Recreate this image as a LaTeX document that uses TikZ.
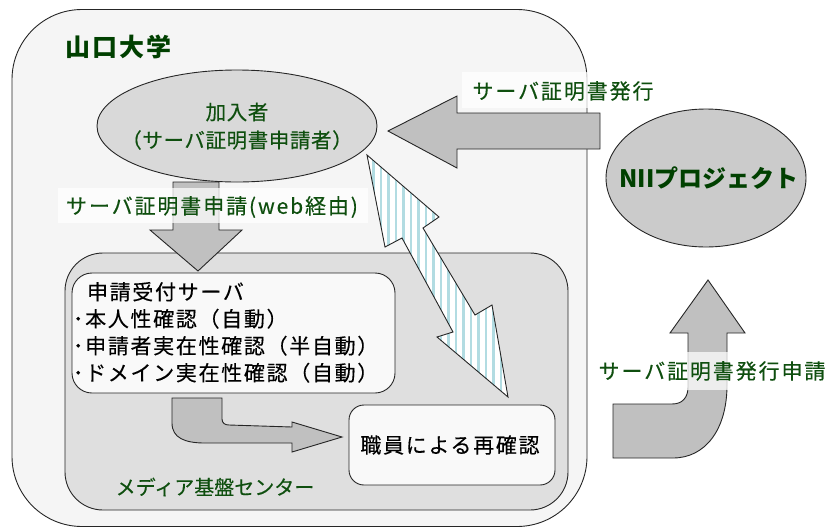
\documentclass[tikz,border=0pt]{standalone}
\usepackage{fontspec}
\setmainfont{Noto Sans CJK JP}
\usetikzlibrary{shapes.geometric}
\definecolor{outerfill}{HTML}{F5F5F5}
\definecolor{innerfill}{HTML}{DFDFDF}
\definecolor{boxfill}{HTML}{F9F9F9}
\definecolor{ellfill}{HTML}{D9D9D9}
\definecolor{niifill}{HTML}{CBCBCB}
\definecolor{arrowgray}{HTML}{C0C0C0}
\definecolor{lblgreen}{HTML}{0F4F0F}
\definecolor{titlegreen}{HTML}{004000}
\definecolor{stripe}{HTML}{B2DCE2}
\begin{document}
\begin{tikzpicture}[x=1pt,y=-1pt,
  every node/.style={inner sep=0pt, outer sep=0pt},
  frame/.style={draw=black!85, line width=0.9pt},
  blockarrow/.style={draw=black!85, fill=arrowgray, line width=0.9pt, line join=miter},
  jtext/.style={font=\fontsize{21}{27}\selectfont\addfontfeatures{LetterSpace=8,FakeBold=0.3}},
  lbl/.style={font=\fontsize{21}{25}\selectfont\addfontfeatures{LetterSpace=9,FakeBold=0.3}, text=lblgreen},
  lblbg/.style={fill=white, fill opacity=0.72, draw=none},
]
\useasboundingbox (0,0) rectangle (827,528);

% containers
\node[frame, fill=outerfill, rounded corners=70pt, minimum width=575pt, minimum height=517pt, anchor=north west] (yu) at (12,9.5) {};
\node[frame, fill=innerfill, rounded corners=38pt, minimum width=503pt, minimum height=257pt, anchor=north west] (mc) at (65,253) {};
\node[frame, fill=boxfill, rounded corners=20pt, minimum width=323pt, minimum height=120pt, anchor=north west] (srv) at (72,273) {};
\node[frame, fill=boxfill, rounded corners=15pt, minimum width=206pt, minimum height=80pt, anchor=north west] (staff) at (349,405) {};

% ellipses
\node[frame, fill=ellfill, ellipse, minimum width=280pt, minimum height=112pt] (sub) at (237,126) {};
\node[frame, fill=niifill, ellipse, minimum width=200pt, minimum height=138pt] (nii) at (706,178) {};

% texts
\node[font=\fontsize{25}{30}\selectfont\bfseries\addfontfeatures{LetterSpace=8}, text=titlegreen] (title) at (118,47) {山口大学};
\node[lbl, font=\fontsize{20.5}{25}\selectfont\addfontfeatures{LetterSpace=3,FakeBold=0.3}] (subt1) at (237,112) {加入者};
\node[lbl, font=\fontsize{20.5}{25}\selectfont\addfontfeatures{LetterSpace=3,FakeBold=0.3}] (subt2) at (237,140) {（サーバ証明書申請者）};
\node[font=\fontsize{24}{30}\selectfont\bfseries, text=titlegreen] (niit) at (709,178) {NIIプロジェクト};

% down arrow
\draw[blockarrow] (173,182) -- (219,182) -- (219,230) -- (242,230) -- (198,271) -- (150,230) -- (173,230) -- cycle;
% issue arrow
\draw[blockarrow] (600,113) -- (600,149) -- (457,149) -- (457,168) -- (388,131) -- (457,96) -- (457,113) -- cycle;
% curved inner arrow
\draw[blockarrow] (172,398) -- (172,423) .. controls (172,438) and (185,443) .. (205,443) -- (292,443) -- (292,452) -- (342,437) -- (292,422) -- (292,427) -- (229,425) .. controls (225,425) and (222,423) .. (222,419) -- (222,398) -- cycle;
% application arrow (outside)
\draw[blockarrow] (613,404) -- (672,404) .. controls (682,404) and (688,398) .. (688,387) -- (688,333) -- (670,333) -- (708,280) -- (745,333) -- (727,333) -- (727,385) .. controls (727,430) and (705,458) .. (673,458) -- (613,458) -- cycle;
% double arrow with stripes
\begin{scope}
  \clip (367,155) -- (439,217) -- (423,228) -- (475,315) -- (492,305) -- (508,397) -- (437,337) -- (453,332) -- (402,238) -- (385,247) -- cycle;
  \fill[white] (360,150) rectangle (515,400);
  \foreach \xx in {366,373.5,...,512} {\draw[stripe, line width=2.2pt] (\xx,150) -- (\xx,400);}
\end{scope}
\draw[frame, line join=miter] (367,155) -- (439,217) -- (423,228) -- (475,315) -- (492,305) -- (508,397) -- (437,337) -- (453,332) -- (402,238) -- (385,247) -- cycle;

% labels with translucent backgrounds
\fill[lblbg] (58,188) rectangle (368,223);
\node[lbl] (l1) at (212,207) {サーバ証明書申請(web経由)};
\fill[lblbg] (462,72) rectangle (660,108);
\node[lbl] (l2) at (563,91) {サーバ証明書発行};
\fill[lblbg] (590,352) rectangle (827,390);
\node[lbl] (l3) at (712,371) {サーバ証明書発行申請};

% server box text
\node[jtext, anchor=north west, align=left] (srvt) at (73,282) {\hspace*{14pt}申請受付サーバ\\･本人性確認（自動）\\･申請者実在性確認（半自動）\\･ドメイン実在性確認（自動）};
\node[jtext] (stafft) at (450,445) {職員による再確認};
\node[lbl, font=\fontsize{20}{25}\selectfont\addfontfeatures{FakeBold=0.3}] (mct) at (215,487) {メディア基盤センター};
\end{tikzpicture}
\end{document}
